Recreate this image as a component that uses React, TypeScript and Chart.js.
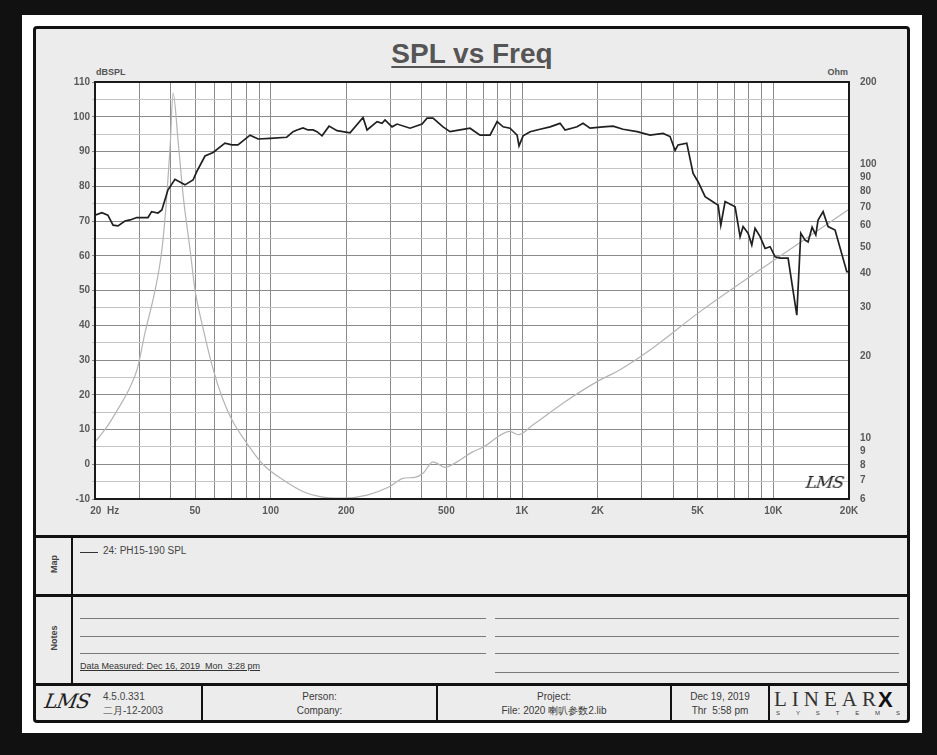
import React, { useEffect, useRef } from "react";
import { Chart, registerables } from "chart.js";

Chart.register(...registerables);

// ---- Data ----
const splFreq = [20, 21.3, 22.5, 23.6, 24.7, 26.3, 27.6, 29.3, 31.1, 32.5, 33.6, 35.6, 36.9, 39, 41.6, 45.6, 49.1, 50.8, 54.8, 59, 65.8, 70, 74.1, 82.8, 89.1, 99.5, 115.8, 122.8, 127.3, 134.5, 140.8, 147.4, 152.9, 160.1, 170.7, 183.7, 206.9, 233.1, 241.8, 265, 277.4, 285.1, 304, 318.3, 358.6, 400.2, 419, 442.6, 485, 517, 567, 621, 681, 746, 796, 841, 896, 956, 973, 1010, 1077, 1180, 1293, 1417, 1484, 1656, 1749, 1865, 2101, 2303, 2524, 2869, 3232, 3642, 3882, 4065, 4178, 4524, 4794, 5018, 5352, 5866, 6030, 6179, 6428, 7044, 7375, 7578, 7934, 8208, 8458, 8856, 9272, 9708, 10164, 10640, 11446, 12396, 12858, 13376, 13748, 14262, 14754, 15068, 15774, 16514, 17604, 19598, 20000];
const splDb = [71.7, 72.4, 71.7, 68.8, 68.6, 70, 70.3, 71, 71, 71, 72.7, 72.3, 73.2, 78.9, 82, 80.4, 81.8, 84.2, 88.7, 89.7, 92.4, 91.9, 91.9, 94.7, 93.6, 93.8, 94.1, 95.7, 96.2, 96.8, 96.2, 96.2, 95.7, 94.5, 97.3, 96, 95.4, 99.8, 96.2, 98.6, 98.1, 99.1, 97.1, 97.9, 96.7, 97.9, 99.6, 99.6, 97.1, 95.7, 96.2, 96.7, 94.7, 94.7, 98.6, 97.1, 96.7, 94.7, 91.6, 94.5, 95.7, 96.4, 97.1, 98.1, 96.2, 97.1, 98.1, 96.7, 97.1, 97.3, 96.4, 95.7, 94.7, 95.2, 94.3, 90.3, 91.9, 92.4, 83.7, 81.3, 77, 75.1, 74.6, 68.8, 75.6, 74.1, 65.5, 68.4, 66.5, 63.1, 67.9, 65.5, 62.1, 62.6, 59.7, 59.3, 59.3, 42.9, 66.5, 64.5, 64, 68.2, 66, 70.3, 72.7, 68.4, 67.4, 55.4, 55.4];

const zFreq = [20, 22.3, 24.7, 27.6, 29.5, 31.6, 34.7, 36.9, 38.6, 39.8, 40.9, 42.9, 44.9, 47.8, 50, 54, 59.1, 63.9, 70, 80.3, 93.5, 112.3, 134.9, 157.2, 194, 241.8, 296.6, 336.2, 375.4, 403.8, 442.6, 494, 551.6, 632.8, 699.8, 896, 964, 1107, 1484, 1989, 2456, 3232, 5110, 10164, 20000];
const zOhm = [9.7, 11, 12.8, 15.4, 18, 24.2, 34.8, 48.7, 76.3, 116, 182, 119.5, 76.3, 48.7, 34.8, 24.9, 17.8, 14.2, 11.7, 9.6, 8.0, 7.04, 6.38, 6.12, 6.04, 6.2, 6.65, 7.14, 7.2, 7.45, 8.2, 7.83, 8.2, 8.9, 9.27, 10.6, 10.3, 11.2, 13.6, 16.1, 17.8, 21, 29, 45, 68.6];

const xTickValues = [20, 30, 40, 50, 60, 70, 80, 90, 100, 200, 300, 400, 500, 600, 700, 800, 900, 1000, 2000, 3000, 4000, 5000, 6000, 7000, 8000, 9000, 10000, 20000];
const xLabelValues = [20, 50, 100, 200, 500, 1000, 2000, 5000, 10000, 20000];
const xLabelTexts = ["       20  Hz", "50", "100", "200", "500", "1K", "2K", "5K", "10K", "20K"];
const ohmTickValues = [6, 7, 8, 9, 10, 20, 30, 40, 50, 60, 70, 80, 90, 100, 200];

const FONT = "'Liberation Sans', Arial, sans-serif";

const bgPlugin = {
  id: "plotBg",
  beforeDraw(chart: any) {
    const { ctx, chartArea: a } = chart;
    ctx.save();
    ctx.fillStyle = "#ffffff";
    ctx.fillRect(a.left, a.top, a.right - a.left, a.bottom - a.top);
    ctx.restore();
  },
  afterDatasetsDraw(chart: any) {
    const { ctx, chartArea: a } = chart;
    ctx.save();
    ctx.strokeStyle = "#1a1a1a";
    ctx.lineWidth = 2;
    ctx.strokeRect(a.left, a.top, a.right - a.left, a.bottom - a.top);
    ctx.restore();
  },
};

function SplChart() {
  const ref = useRef<HTMLCanvasElement | null>(null);
  useEffect(() => {
    if (!ref.current) return;
    const chart = new Chart(ref.current, {
      type: "line",
      data: {
        datasets: [
          {
            label: "24: PH15-190 SPL",
            data: splFreq.map((f, i) => ({ x: f, y: splDb[i] })),
            borderColor: "#202020",
            borderWidth: 1.7,
            pointRadius: 0,
            tension: 0,
            yAxisID: "y",
            order: 1,
          },
          {
            label: "Impedance",
            data: zFreq.map((f, i) => ({ x: f, y: zOhm[i] })),
            borderColor: "#b4b4b4",
            borderWidth: 1.2,
            pointRadius: 0,
            cubicInterpolationMode: "monotone",
            yAxisID: "y2",
            order: 2,
          },
        ],
      },
      options: {
        animation: false,
        responsive: false,
        maintainAspectRatio: false,
        layout: { padding: { top: 53, left: 0, right: 0, bottom: 0 } },
        plugins: { legend: { display: false }, tooltip: { enabled: false }, title: { display: false } },
        scales: {
          x: {
            type: "logarithmic",
            min: 20,
            max: 20000,
            afterBuildTicks: (axis: any) => {
              axis.ticks = xTickValues.map((v) => ({ value: v }));
            },
            afterFit: (scale: any) => {
              scale.height = 36;
            },
            grid: { color: "#8a8a8a", lineWidth: 1, drawTicks: false },
            border: { display: false },
            ticks: {
              autoSkip: false,
              maxRotation: 0,
              minRotation: 0,
              padding: 6,
              color: "#5a5a5a",
              font: { family: FONT, size: 10, weight: "bold" },
              callback: (v: any) => {
                const i = xLabelValues.indexOf(Number(v));
                return i >= 0 ? xLabelTexts[i] : "";
              },
            },
          },
          y: {
            type: "linear",
            position: "left",
            min: -10,
            max: 110,
            afterFit: (scale: any) => {
              scale.width = 59;
            },
            grid: {
              color: (c: any) => (c.tick && c.tick.value % 10 === 0 ? "#8a8a8a" : "#c4c4c4"),
              lineWidth: 1,
              drawTicks: true,
              tickLength: 3,
            },
            border: { display: false },
            ticks: {
              stepSize: 5,
              padding: 2,
              color: "#5a5a5a",
              font: { family: FONT, size: 10, weight: "bold" },
              callback: (v: any) => (Number(v) % 10 === 0 ? String(v) : ""),
            },
          },
          y2: {
            type: "logarithmic",
            position: "right",
            min: 6,
            max: 200,
            afterBuildTicks: (axis: any) => {
              axis.ticks = ohmTickValues.map((v) => ({ value: v }));
            },
            afterFit: (scale: any) => {
              scale.width = 58;
            },
            grid: { display: false, drawOnChartArea: false },
            border: { display: false },
            ticks: {
              autoSkip: false,
              padding: 3,
              color: "#5a5a5a",
              font: { family: FONT, size: 10, weight: "bold" },
              callback: (v: any) => String(v),
            },
          },
        },
      },
      plugins: [bgPlugin],
    } as any);
    return () => chart.destroy();
  }, []);
  return (
    <canvas
      ref={ref}
      width={871}
      height={506}
      style={{ position: "absolute", left: 36, top: 29, width: 871, height: 506 }}
    />
  );
}

const abs = (s: React.CSSProperties): React.CSSProperties => ({ position: "absolute", ...s });

export default function App() {
  const hLine = (top: number, h = 3, left = 33, width = 877) => (
    <div style={abs({ left, top, width, height: h, background: "#111" })} />
  );
  const vLine = (left: number, top: number, height: number, w = 2) => (
    <div style={abs({ left, top, width: w, height, background: "#111" })} />
  );
  const noteLine = (left: number, right: number, top: number) => (
    <div style={abs({ left, top, width: right - left, height: 1, background: "#7a7a7a" })} />
  );
  const footText = (left: number, width: number, l1: string, l2: string) => (
    <div
      style={abs({
        left,
        width,
        top: 690,
        textAlign: "center",
        fontFamily: FONT,
        fontSize: 10,
        lineHeight: "14px",
        color: "#3a3a3a",
        whiteSpace: "pre",
      })}
    >
      <div>{l1}</div>
      <div>{l2}</div>
    </div>
  );

  return (
    <div style={abs({ position: "fixed", left: 0, top: 0, width: 937, height: 755, background: "#111", overflow: "hidden" })}>
      <div style={abs({ left: 22, top: 15, width: 900, height: 718, background: "#ffffff" })} />
      <div
        style={abs({
          left: 33,
          top: 26,
          width: 877,
          height: 697,
          background: "#ececec",
          border: "3px solid #111",
          borderRadius: 4,
          boxSizing: "border-box",
        })}
      />
      {/* Title */}
      <div
        style={abs({
          left: 272,
          width: 400,
          top: 38,
          textAlign: "center",
          fontFamily: FONT,
          fontWeight: "bold",
          fontSize: 28,
          color: "#555",
          textDecoration: "underline",
          textDecorationThickness: "2px",
          textUnderlineOffset: "3px",
          lineHeight: "32px",
        })}
      >
        SPL vs Freq
      </div>
      <div style={abs({ left: 96, top: 67, fontFamily: FONT, fontWeight: "bold", fontSize: 9, color: "#555" })}>dBSPL</div>
      <div style={abs({ left: 800, width: 48, top: 67, textAlign: "right", fontFamily: FONT, fontWeight: "bold", fontSize: 9, color: "#555" })}>Ohm</div>

      <SplChart />

      <div
        style={abs({
          left: 806,
          top: 472,
          fontFamily: "'DejaVu Serif', serif",
          fontStyle: "italic",
          fontSize: 17,
          color: "#222",
          letterSpacing: -1,
          transform: "skewX(-8deg)",
        })}
      >
        LMS
      </div>

      {/* section separators */}
      {hLine(535)}
      {hLine(594)}
      {hLine(683)}
      {vLine(71, 537, 147)}

      {/* Map */}
      <div
        style={abs({
          left: 36,
          width: 35,
          top: 559,
          textAlign: "center",
          fontFamily: FONT,
          fontSize: 9,
          fontWeight: "bold",
          color: "#444",
          transform: "rotate(-90deg)",
        })}
      >
        Map
      </div>
      <div style={abs({ left: 80, top: 552, width: 18, height: 1, background: "#333" })} />
      <div style={abs({ left: 103, top: 545, fontFamily: FONT, fontSize: 10, color: "#444", whiteSpace: "pre" })}>
        24: PH15-190 SPL
      </div>

      {/* Notes */}
      <div
        style={abs({
          left: 31,
          width: 45,
          top: 633,
          textAlign: "center",
          fontFamily: FONT,
          fontSize: 9,
          fontWeight: "bold",
          color: "#444",
          transform: "rotate(-90deg)",
        })}
      >
        Notes
      </div>
      {noteLine(80, 486, 618)}
      {noteLine(80, 486, 636)}
      {noteLine(80, 486, 653)}
      {noteLine(495, 899, 618)}
      {noteLine(495, 899, 636)}
      {noteLine(495, 899, 653)}
      {noteLine(495, 899, 672)}
      <div
        style={abs({
          left: 80,
          top: 661,
          fontFamily: FONT,
          fontSize: 9,
          color: "#333",
          textDecoration: "underline",
          whiteSpace: "pre",
        })}
      >
        Data Measured: Dec 16, 2019  Mon  3:28 pm
      </div>

      {/* Footer */}
      {vLine(201, 685, 36)}
      {vLine(436, 685, 36)}
      {vLine(670, 685, 36)}
      {vLine(768, 685, 36)}
      <div
        style={abs({
          left: 45,
          top: 689,
          fontFamily: "'DejaVu Serif', serif",
          fontStyle: "italic",
          fontSize: 20,
          color: "#222",
          letterSpacing: -1,
          transform: "skewX(-10deg)",
        })}
      >
        LMS
      </div>
      <div style={abs({ left: 103, top: 690, fontFamily: FONT, fontSize: 10, lineHeight: "14px", color: "#444" })}>
        <div>4.5.0.331</div>
        <div>二月-12-2003</div>
      </div>
      {footText(203, 233, "Person:", "Company:")}
      {footText(438, 232, "Project:", "File: 2020 喇叭参数2.lib")}
      {footText(672, 96, "Dec 19, 2019", "Thr  5:58 pm")}
      <div
        style={abs({
          left: 774,
          top: 687,
          fontFamily: "'Liberation Serif', serif",
          fontSize: 21,
          color: "#333",
          letterSpacing: 5,
          whiteSpace: "pre",
          lineHeight: "24px",
        })}
      >
        LINEAR
      </div>
      <div
        style={abs({
          left: 878,
          top: 689,
          fontFamily: FONT,
          fontSize: 22,
          fontWeight: "bold",
          color: "#111",
          lineHeight: "22px",
        })}
      >
        X
      </div>
      <div
        style={abs({
          left: 776,
          top: 710,
          width: 124,
          display: "flex",
          justifyContent: "space-between",
          fontFamily: FONT,
          fontSize: 6,
          color: "#444",
        })}
      >
        {"SYSTEMS".split("").map((c, i) => (
          <span key={i}>{c}</span>
        ))}
      </div>
    </div>
  );
}
